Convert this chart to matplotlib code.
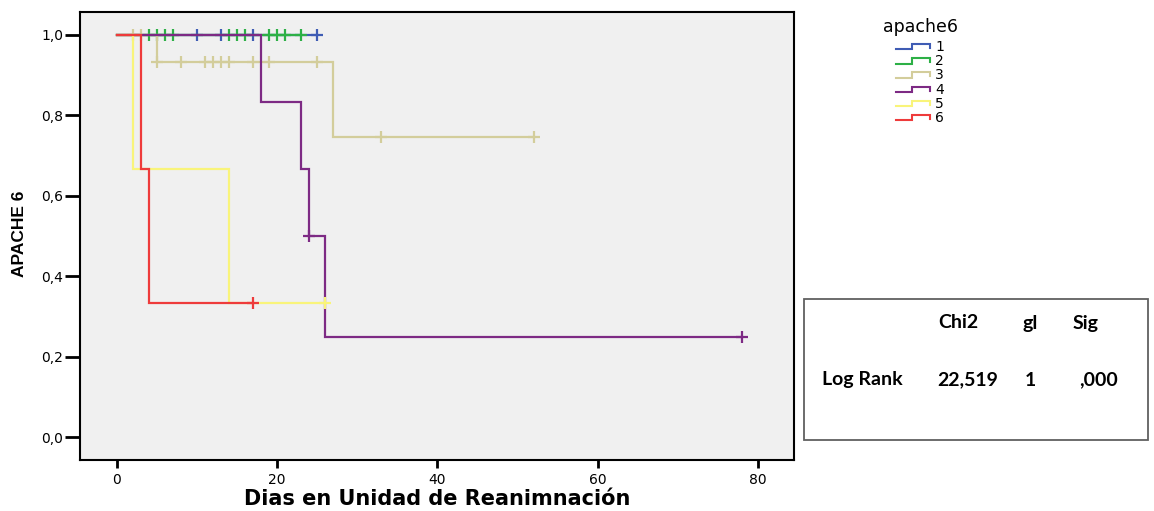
import numpy as np
import matplotlib
matplotlib.use("Agg")
import matplotlib.pyplot as plt
from matplotlib.patches import Rectangle

plt.rcParams["font.family"] = ["DejaVu Sans"]

# Follow-up in days and status (1 = death, 0 = censored) for each APACHE group
days_g1 = [10, 13, 17, 25]
status_g1 = [0, 0, 0, 0]

days_g2 = [4, 5, 6, 7, 14, 15, 16, 19, 20, 21, 23]
status_g2 = [0, 0, 0, 0, 0, 0, 0, 0, 0, 0, 0]

days_g3 = [2, 3, 5, 5, 8, 11, 12, 13, 14, 17, 19, 25, 27, 33, 33, 52, 52]
status_g3 = [0, 0, 1, 0, 0, 0, 0, 0, 0, 0, 0, 0, 1, 0, 0, 0, 0]

days_g4 = [18, 23, 24, 24, 26, 78]
status_g4 = [1, 1, 1, 0, 1, 0]

days_g5 = [2, 14, 26]
status_g5 = [1, 1, 0]

days_g6 = [3, 4, 17]
status_g6 = [1, 1, 0]

group_labels = ["1", "2", "3", "4", "5", "6"]
group_colors = ["#3F5CB4", "#2DB046", "#D3CD9B", "#7D2A84", "#F9F47A", "#EE3B3B"]

log_rank_header = ["Chi2", "gl", "Sig"]
log_rank_row = ["Log Rank", "22,519", "1", ",000"]

x_ticks = [0, 20, 40, 60, 80]
y_ticks = [0.0, 0.2, 0.4, 0.6, 0.8, 1.0]


def kaplan_meier(days, status):
    days = np.asarray(days, dtype=float)
    status = np.asarray(status, dtype=int)
    xs, ys = [0.0], [1.0]
    surv = 1.0
    surv_at = {}
    for t in np.unique(days):
        at_risk = np.sum(days >= t)
        deaths = np.sum((days == t) & (status == 1))
        if deaths:
            xs += [t, t]
            ys += [surv, surv * (1 - deaths / at_risk)]
            surv *= 1 - deaths / at_risk
        surv_at[t] = surv
    xs.append(days.max())
    ys.append(surv)
    cens_t = np.unique(days[status == 0])
    cens_s = [surv_at[t] for t in cens_t]
    return np.array(xs), np.array(ys), cens_t, np.array(cens_s)


W, H = 1154, 511
fig = plt.figure(figsize=(W / 100, H / 100), dpi=100)
fig.patch.set_facecolor("white")

ax = fig.add_axes([80 / W, 1 - 460 / H, 714 / W, 448 / H])
ax.set_facecolor("#F0F0F0")

groups = [(days_g1, status_g1), (days_g2, status_g2), (days_g3, status_g3),
          (days_g4, status_g4), (days_g5, status_g5), (days_g6, status_g6)]
draw_order = [3, 0, 1, 2, 4, 5]
for gi in draw_order:
    d, s = groups[gi]
    xs, ys, ct, cs = kaplan_meier(d, s)
    ax.plot(xs, ys, color=group_colors[gi], lw=1.6, solid_joinstyle="miter", zorder=2 + gi * 0.1)
    ax.plot(ct, cs, ls="none", marker="+", ms=8, mew=1.6, color=group_colors[gi], zorder=2 + gi * 0.1)

ax.set_xlim(-4.6, 84.5)
ax.set_ylim(-0.0571, 1.0571)
ax.set_xticks(x_ticks)
ax.set_xticklabels([str(v) for v in x_ticks])
ax.set_yticks(y_ticks)
ax.set_yticklabels([f"{v:.1f}".replace(".", ",") for v in y_ticks])
ax.tick_params(axis="y", direction="out", length=11, width=2, labelsize=10, pad=1)
ax.tick_params(axis="x", direction="out", length=6, width=2, labelsize=10, pad=3)
for sp in ax.spines.values():
    sp.set_linewidth(1.5)
    sp.set_color("black")

fig.text(437 / W, 1 - 499 / H, "Dias en Unidad de Reanimnación", ha="center", va="center",
         fontsize=15, fontweight="bold")
fig.text(20 / W, 1 - 234 / H, "APACHE 6", rotation=90, ha="center", va="center",
         fontsize=12.5, fontweight="bold", family=["Liberation Sans", "DejaVu Sans"])

# Legend with step-shaped keys
leg = fig.add_axes([0, 0, 1, 1], facecolor="none")
leg.set_xlim(0, W)
leg.set_ylim(H, 0)
leg.axis("off")
leg.text(921, 27, "apache6", ha="center", va="center", fontsize=12.5)
for i, (lab, col) in enumerate(zip(group_labels, group_colors)):
    y = 47 + i * 14.2
    leg.plot([896, 912, 912, 930, 930], [y + 2.5, y + 2.5, y - 3, y - 3, y + 1],
             color=col, lw=1.5, solid_joinstyle="miter")
    leg.text(935, y, lab, ha="left", va="center", fontsize=10)

# Log-rank test box
leg.add_patch(Rectangle((804, 299), 344, 141, fill=False, ec="#606060", lw=1.3))
tfont = dict(fontsize=14, fontweight="bold", family=["Lato", "DejaVu Sans"], va="center")
for txt, x in zip(log_rank_header, [958, 1030, 1086]):
    leg.text(x, 323, txt, ha="center", **tfont)
for txt, x in zip(log_rank_row, [862, 968, 1030, 1098]):
    leg.text(x, 380, txt, ha="center", **tfont)

fig.savefig("out.png", dpi=100, facecolor="white")
